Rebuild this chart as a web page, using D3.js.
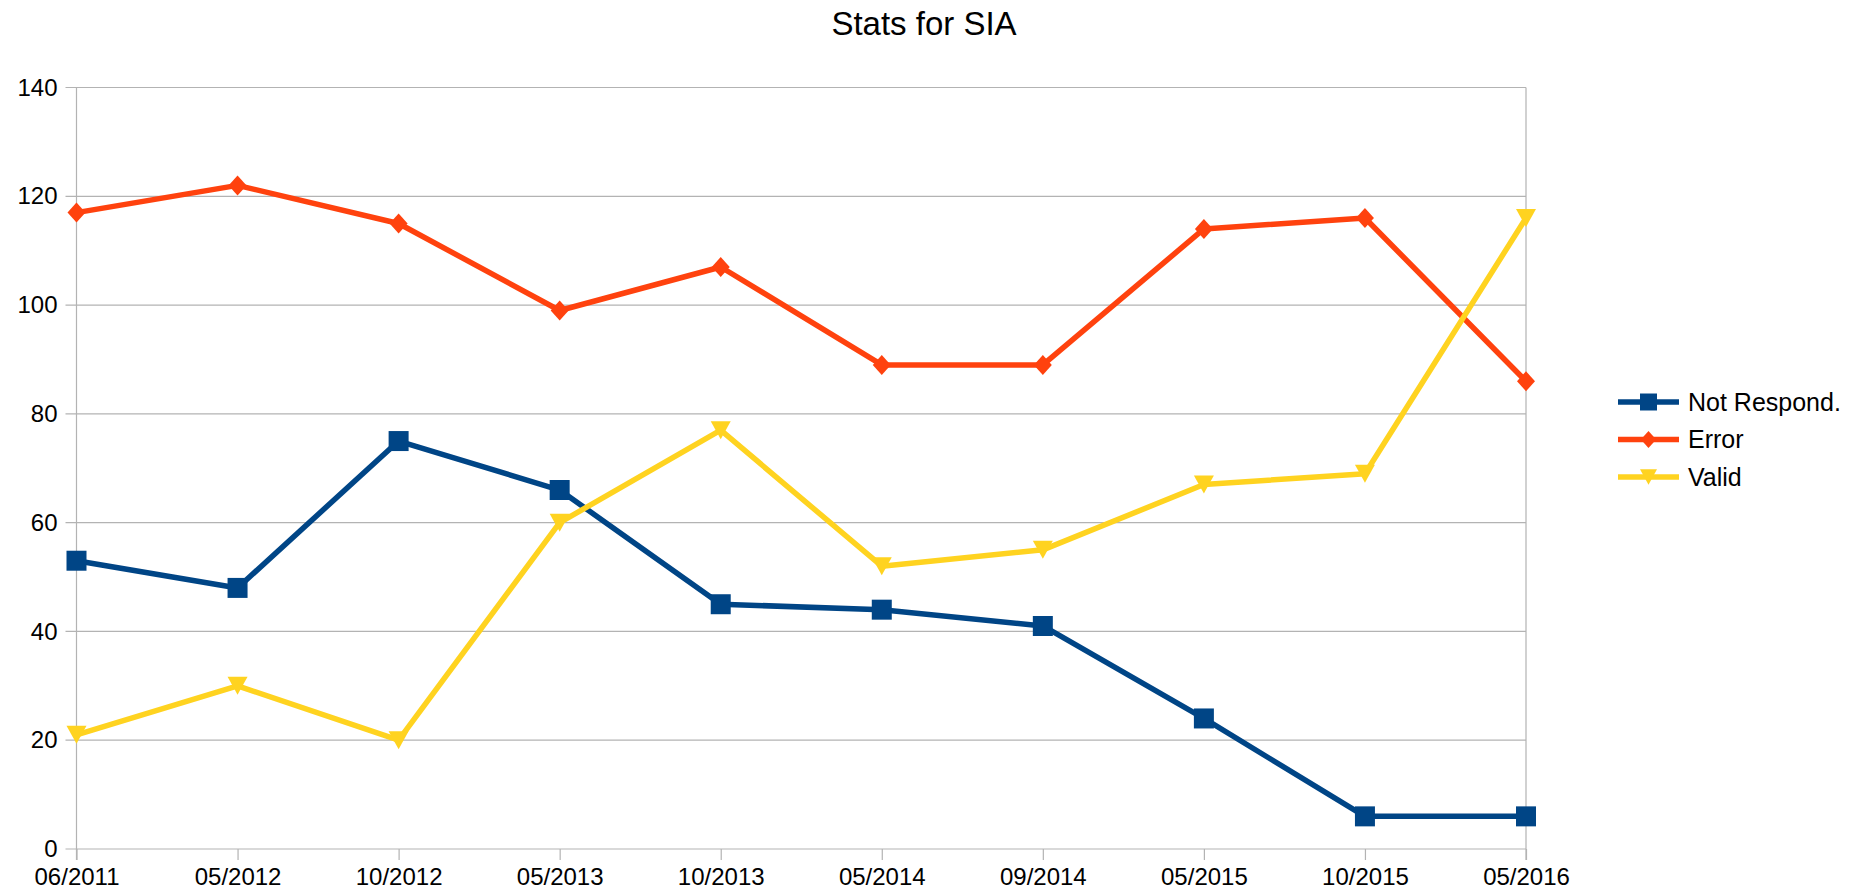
<!DOCTYPE html>
<html>
<head>
<meta charset="utf-8">
<script src="https://cdn.jsdelivr.net/npm/d3@7"></script>
<style>
  body { margin: 0; background: #fff; }
  svg { display: block; font-family: "Liberation Sans", Arial, sans-serif; }
</style>
</head>
<body>
<div id="chart"></div>
<script>
const dates = ["06/2011", "05/2012", "10/2012", "05/2013", "10/2013", "05/2014", "09/2014", "05/2015", "10/2015", "05/2016"];
const notResponding = [53, 48, 75, 66, 45, 44, 41, 24, 6, 6];
const errors = [117, 122, 115, 99, 107, 89, 89, 114, 116, 86];
const valid = [21, 30, 20, 60, 77, 52, 55, 67, 69, 116];
const yTicks = [0, 20, 40, 60, 80, 100, 120, 140];

const series = [
  { name: "Not Respond.", values: notResponding, color: "#004586", symbol: "square" },
  { name: "Error", values: errors, color: "#ff420e", symbol: "diamond" },
  { name: "Valid", values: valid, color: "#ffd320", symbol: "triangle" }
];

const width = 1863, height = 896;
const plot = { left: 76.5, right: 1526, top: 87.5, bottom: 849 };

const svg = d3.select("#chart").append("svg").attr("width", width).attr("height", height);

const x = d3.scalePoint().domain(dates).range([plot.left, plot.right]);
const y = d3.scaleLinear().domain([0, 140]).range([plot.bottom, plot.top]);

// grid
svg.append("g").selectAll("line").data(yTicks).enter().append("line")
  .attr("x1", plot.left - 11).attr("x2", plot.right)
  .attr("y1", d => y(d)).attr("y2", d => y(d))
  .attr("stroke", "#b3b3b3").attr("stroke-width", 1.2);

// frame sides
[plot.left, plot.right].forEach(px => {
  svg.append("line").attr("x1", px).attr("x2", px)
    .attr("y1", plot.top).attr("y2", plot.bottom + 11)
    .attr("stroke", "#b3b3b3").attr("stroke-width", 1.2);
});

// x axis
const xAxis = d3.axisBottom(x).tickSize(11).tickPadding(8);
const gx = svg.append("g").attr("transform", `translate(0, ${plot.bottom})`).call(xAxis);
gx.select(".domain").remove();
gx.selectAll(".tick line").attr("stroke", "#b3b3b3").attr("stroke-width", 1.2);
gx.selectAll(".tick text").attr("font-size", 24).attr("fill", "#000")
  .attr("font-family", "Liberation Sans, Arial, sans-serif");

// y axis labels
const yAxis = d3.axisLeft(y).tickValues(yTicks).tickSize(0).tickPadding(19);
const gy = svg.append("g").attr("transform", `translate(${plot.left}, 0)`).call(yAxis);
gy.select(".domain").remove();
gy.selectAll(".tick text").attr("font-size", 24).attr("fill", "#000")
  .attr("font-family", "Liberation Sans, Arial, sans-serif");

// title
svg.append("text").text("Stats for SIA")
  .attr("x", 924).attr("y", 35)
  .attr("text-anchor", "middle").attr("font-size", 33).attr("fill", "#000");

// marker shapes (relative to point centre)
function markerPath(kind, k) {
  const p = d3.path();
  if (kind === "square") {
    const h = 10 * k;
    p.rect(-h, -h, 2 * h, 2 * h);
  } else if (kind === "diamond") {
    const w = 9 * k, h = 10 * k;
    p.moveTo(0, -h); p.lineTo(w, 0); p.lineTo(0, h); p.lineTo(-w, 0); p.closePath();
  } else {
    const w = 10 * k, h = 9 * k;
    p.moveTo(-w, -h); p.lineTo(w, -h); p.lineTo(0, h); p.closePath();
  }
  return p.toString();
}

const line = d3.line().x((d, i) => x(dates[i])).y(d => y(d));

series.forEach(s => {
  const g = svg.append("g");
  g.append("path").datum(s.values).attr("d", line)
    .attr("fill", "none").attr("stroke", s.color).attr("stroke-width", 5.5)
    .attr("stroke-linejoin", "round");
  g.selectAll("path.pt").data(s.values).enter().append("path").attr("class", "pt")
    .attr("d", markerPath(s.symbol, 1))
    .attr("transform", (d, i) => `translate(${x(dates[i])}, ${y(d)})`)
    .attr("fill", s.color);
});

// legend
const legend = svg.append("g").attr("transform", "translate(1618, 402)");
const items = legend.selectAll("g").data(series).enter().append("g")
  .attr("transform", (d, i) => `translate(0, ${i * 37.5})`);
items.append("line").attr("x1", 0).attr("x2", 61).attr("y1", 0).attr("y2", 0)
  .attr("stroke", d => d.color).attr("stroke-width", 5.5);
items.append("path")
  .attr("d", d => markerPath(d.symbol, 0.85))
  .attr("transform", "translate(30.5, 0)")
  .attr("fill", d => d.color);
items.append("text").text(d => d.name)
  .attr("x", 70).attr("y", 0).attr("dy", "0.35em")
  .attr("font-size", 25).attr("fill", "#000");
</script>
</body>
</html>
